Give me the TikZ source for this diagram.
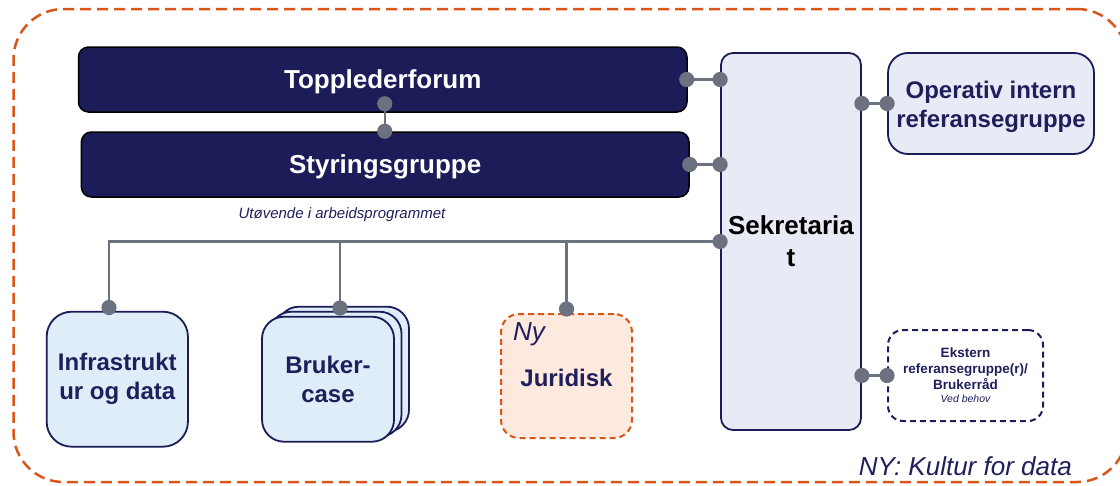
\documentclass[tikz,border=0pt]{standalone}
\usepackage{fontspec}
\setmainfont{Liberation Sans}
\usetikzlibrary{calc}
\definecolor{navyfill}{HTML}{1B1C58}
\definecolor{navytext}{HTML}{1F1F5C}
\definecolor{lav}{HTML}{E8EBF5}
\definecolor{lblue}{HTML}{DEEDF8}
\definecolor{peach}{HTML}{FDE9DD}
\definecolor{orng}{HTML}{D9561A}
\definecolor{connc}{HTML}{6C7180}
\begin{document}
\begin{tikzpicture}[x=1pt,y=-1pt,
  darkbox/.style={draw=black,line width=1.5pt,fill=navyfill,rounded corners=10pt,inner sep=0pt,text=white,font=\fontsize{26}{30}\selectfont\bfseries,text height=18.6pt,text depth=0pt},
  lavbox/.style={draw=navyfill,line width=1.8pt,fill=lav,inner sep=0pt,align=center},
  bluebox/.style={draw=navyfill,line width=1.8pt,fill=lblue,inner sep=0pt,align=center,text=navytext,font=\fontsize{24}{29}\selectfont\bfseries,rounded corners=22pt},
  conn/.style={draw=connc,line width=3pt},
  dotc/.style={fill=connc},
  outerframe/.style={draw=orng,line width=2.5pt,dash pattern=on 11pt off 6pt,rounded corners=50pt,inner sep=0pt},
]
\useasboundingbox (0,0) rectangle (1120,485);
\node[outerframe,minimum width=1113.5pt,minimum height=473pt] (frame) at (570.25,245.5) {};

% top boxes
\node[darkbox,minimum width=608.5pt,minimum height=65pt] (top) at (382.75,79.5) {Topplederforum};
\node[darkbox,minimum width=607.6pt,minimum height=65pt] (sty) at (385.2,164.5) {Styringsgruppe};
\node[text=navytext,font=\fontsize{15}{18}\selectfont\itshape] (utov) at (342,215) {Utøvende i arbeidsprogrammet};

% sekretariat
\node[lavbox,rounded corners=12pt,minimum width=140pt,minimum height=377pt,font=\fontsize{26}{32}\selectfont\bfseries,text=black] (sek) at (791,241.5) {Sekretaria\\t};

% operativ
\node[lavbox,rounded corners=20pt,minimum width=206pt,minimum height=101pt,font=\fontsize{24}{29}\selectfont\bfseries,text=navytext] (op) at (991,103.5) {\rule{0pt}{25pt}Operativ intern\\referansegruppe};

% ekstern
\node[draw=navyfill,line width=2pt,dash pattern=on 6pt off 4pt,fill=white,rounded corners=15pt,minimum width=155pt,minimum height=91pt,inner sep=0pt,align=center,text=navytext,font=\fontsize{13.5}{16}\selectfont\bfseries] (ek) at (965.5,375.5) {Ekstern\\referansegruppe(r)/\\Brukerråd\\[-3pt]{\fontsize{10.5}{12}\selectfont\mdseries\itshape Ved behov}};

% bottom boxes
\node[bluebox,minimum width=141.3pt,minimum height=135pt,rounded corners=25pt] (infra) at (117.3,379.2) {Infrastrukt\\ur og data};
\node[bluebox,minimum width=132pt,minimum height=125pt] (br3) at (343,369.2) {};
\node[bluebox,minimum width=132pt,minimum height=125pt] (br2) at (335.5,374.2) {};
\node[bluebox,minimum width=132pt,minimum height=125pt] (br1) at (328,379.2) {Bruker-\\case};
\node[draw=orng,line width=2pt,dash pattern=on 6pt off 4pt,fill=peach,rounded corners=18pt,minimum width=131pt,minimum height=124pt,inner sep=0pt,text=navytext,font=\fontsize{24}{29}\selectfont\bfseries] (jur) at (566.5,376) {\rule{0pt}{21pt}Juridisk};
\node[anchor=base west,inner sep=0pt,text=navytext,font=\fontsize{26}{30}\selectfont\itshape] (ny) at (513,340.5) {Ny};

\node[anchor=base east,inner sep=0pt,text=navytext,font=\fontsize{26}{30}\selectfont\itshape] (kultur) at (1072,475.5) {NY: Kultur for data};

% connectors
\coordinate (tsdot) at ($(top.south)+(2,-9)$);
\coordinate (ssdot) at (tsdot |- sty.north);
\draw[conn,line width=2pt] (tsdot) -- (ssdot);
\fill[dotc] (tsdot) circle (7.6pt);
\fill[dotc] (ssdot) circle (7.6pt);

\coordinate (tse) at ($(top.east)+(-1,0)$);
\draw[conn] (tse) -- (tse -| sek.west);
\fill[dotc] (tse) circle (7.6pt);
\fill[dotc] (tse -| sek.west) circle (7.6pt);

\draw[conn] (sty.east) -- (sty.east -| sek.west);
\fill[dotc] (sty.east) circle (7.6pt);
\fill[dotc] (sty.east -| sek.west) circle (7.6pt);

\draw[conn] (sek.east |- op.west) -- (op.west);
\fill[dotc] (sek.east |- op.west) circle (7.6pt);
\fill[dotc] (op.west) circle (7.6pt);

\draw[conn] (sek.east |- ek.west) -- (ek.west);
\fill[dotc] (sek.east |- ek.west) circle (7.6pt);
\fill[dotc] (ek.west) circle (7.6pt);

\coordinate (bus) at (109,241.5);
\coordinate (busb) at (340,241.5);
\coordinate (infdot) at (109,307.5);
\coordinate (brdot) at (340,308);
\coordinate (jurdot) at (jur.north |- 0,309);
\draw[conn,line width=2.5pt] (sek.west) -- (bus) -- (infdot);
\draw[conn,line width=2.5pt] (busb) -- (brdot);
\draw[conn,line width=2.5pt] (jur.north |- bus) -- (jurdot);
\fill[dotc] (sek.west) circle (7.6pt);
\fill[dotc] (infdot) circle (7.6pt);
\fill[dotc] (brdot) circle (7.6pt);
\fill[dotc] (jurdot) circle (7.6pt);
\end{tikzpicture}
\end{document}
